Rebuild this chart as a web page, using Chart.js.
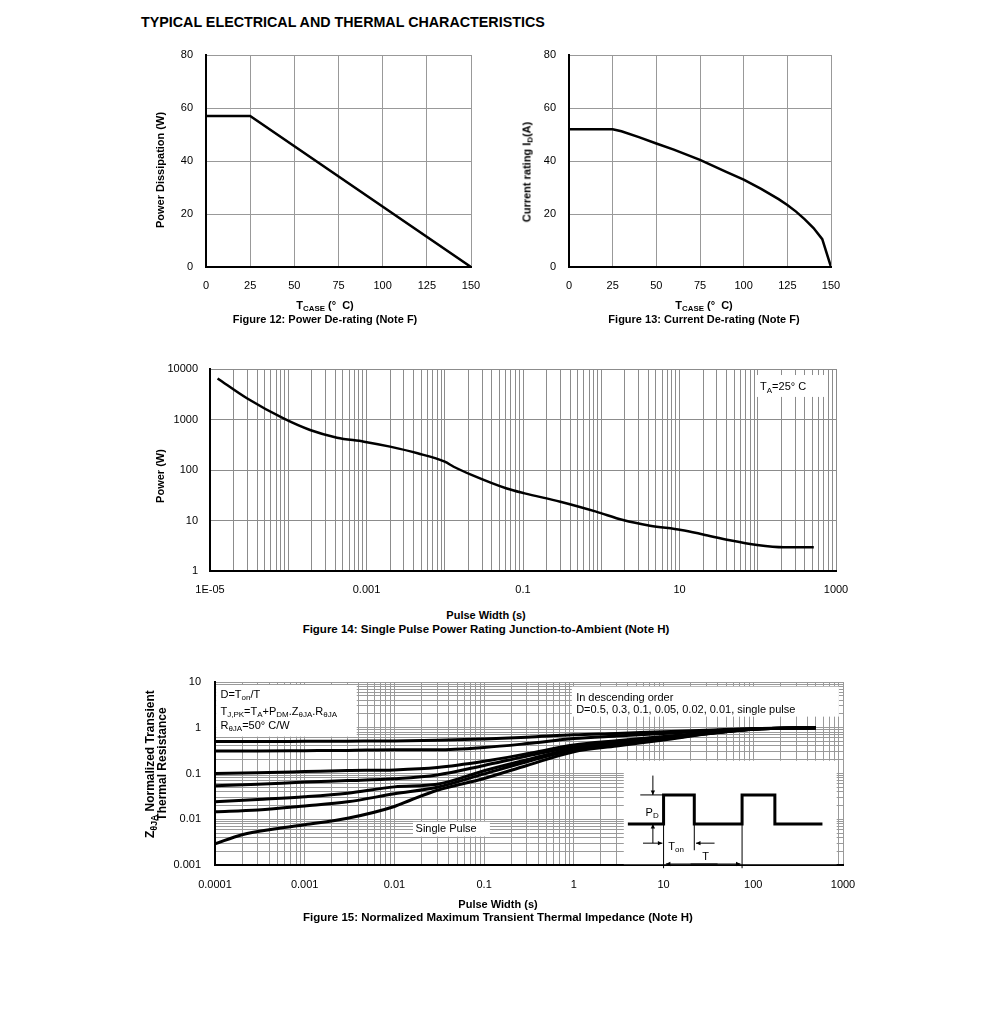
<!DOCTYPE html>
<html>
<head>
<meta charset="utf-8">
<script src="https://cdn.jsdelivr.net/npm/chart.js@4.4.1/dist/chart.umd.min.js"></script>
<style>
  html, body { margin: 0; padding: 0; background: #fff; }
  body { width: 991px; height: 1034px; position: relative; overflow: hidden;
         font-family: "Liberation Sans", Arial, sans-serif; color: #000; }
  canvas { position: absolute; }
  h1 { position: absolute; left: 141px; top: 14px; margin: 0; font-size: 14.3px; line-height: 16px; font-weight: bold; }
  .t { position: absolute; white-space: nowrap; font-weight: bold; font-size: 11px; line-height: 13px;
       transform: translate(-50%, -50%); text-align: center; }
  .v { transform: translate(-50%, -50%) rotate(-90deg); }
  .w { font-size: 11.5px; }
  sub { font-size: 0.72em; vertical-align: -0.3em; line-height: 0; }
</style>
</head>
<body>
<h1>TYPICAL ELECTRICAL AND THERMAL CHARACTERISTICS</h1>

<canvas id="fig12" width="330" height="255" style="left:160px;top:45px"></canvas>
<canvas id="fig13" width="320" height="255" style="left:530px;top:45px"></canvas>
<canvas id="fig14" width="690" height="245" style="left:165px;top:359px"></canvas>
<canvas id="fig15" width="690" height="230" style="left:170px;top:672px"></canvas>

<div class="t v" style="left:160px;top:170px">Power Dissipation (W)</div>
<div class="t" style="left:325px;top:305px">T<sub>CASE</sub> (°&nbsp; C)</div>
<div class="t" style="left:325px;top:319px">Figure 12: Power De-rating (Note F)</div>

<div class="t v" style="left:527px;top:172px">Current rating I<sub>D</sub>(A)</div>
<div class="t" style="left:704px;top:305px">T<sub>CASE</sub> (°&nbsp; C)</div>
<div class="t" style="left:704px;top:319px">Figure 13: Current De-rating (Note F)</div>

<div class="t v" style="left:160px;top:476px">Power (W)</div>
<div class="t" style="left:486px;top:615px">Pulse Width (s)</div>
<div class="t w" style="left:486px;top:629px">Figure 14: Single Pulse Power Rating Junction-to-Ambient (Note H)</div>

<div class="t v" style="left:156px;top:764px;font-size:12px;line-height:12px">Z<sub>θJA</sub> Normalized Transient<br>Thermal Resistance</div>
<div class="t" style="left:498px;top:904px">Pulse Width (s)</div>
<div class="t w" style="left:498px;top:917px">Figure 15: Normalized Maximum Transient Thermal Impedance (Note H)</div>

<script>
const FONT = '"Liberation Sans", Arial, sans-serif';
Chart.defaults.font.family = FONT;
Chart.defaults.font.size = 11;
Chart.defaults.color = '#000';

// Figure 12: power de-rating
const tcase12 = [0, 25, 150];
const power12 = [57, 57, 0];

// Figure 13: current de-rating
const tcase13 = [0, 25, 30, 40, 50, 60, 75, 90, 100, 110, 120, 125, 130, 135, 140, 145, 150];
const current13 = [52, 52, 51.2, 49, 46.6, 44.3, 40.4, 35.9, 33, 29.5, 25.6, 23.4, 20.9, 18, 14.7, 10.5, 0];

const tempTicks = [0, 25, 50, 75, 100, 125, 150];
const tempLabels = ['0', '25', '50', '75', '100', '125', '150'];
const derateTicks = [0, 20, 40, 60, 80];
const derateLabels = ['0', '20', '40', '60', '80'];

// Figure 14: single pulse power rating
const pulse14 = [1.25e-5, 3e-5, 8.7e-5, 1.9e-4, 4.2e-4, 9.3e-4, 2e-3, 4.5e-3, 0.01, 0.013, 0.022,
                 0.062, 0.105, 0.3, 0.86, 1.9, 4.2, 10.5, 20, 44, 98, 215, 520];
const power14 = [6500, 2600, 1050, 620, 437, 364, 290, 214, 146, 116, 80,
                 43, 34.5, 23.6, 15, 10.2, 7.9, 6.5, 5.3, 4.05, 3.27, 2.95, 2.95];

const x14Ticks = [1e-5, 1e-3, 0.1, 10, 1000];
const x14Labels = ['1E-05', '0.001', '0.1', '10', '1000'];
const y14Ticks = [1, 10, 100, 1000, 10000];
const y14Labels = ['1', '10', '100', '1000', '10000'];

// Figure 15: normalized transient thermal impedance
const pulse15 = [1e-4, 3e-4, 1e-3, 3e-3, 0.01, 0.03, 0.1, 0.3, 1, 3, 10, 30, 100, 500];
const zD05  = [0.50, 0.50, 0.505, 0.51, 0.515, 0.53, 0.57, 0.62, 0.70, 0.75, 0.82, 0.88, 0.96, 1.0];
const zD03  = [0.31, 0.31, 0.315, 0.32, 0.33, 0.33, 0.37, 0.45, 0.58, 0.66, 0.75, 0.84, 0.95, 1.0];
const zD01  = [0.10, 0.104, 0.11, 0.116, 0.12, 0.135, 0.185, 0.27, 0.42, 0.52, 0.64, 0.78, 0.94, 1.0];
const zD005 = [0.054, 0.058, 0.065, 0.07, 0.077, 0.093, 0.15, 0.24, 0.38, 0.47, 0.60, 0.76, 0.93, 1.0];
const zD002 = [0.024, 0.027, 0.031, 0.037, 0.051, 0.058, 0.115, 0.2, 0.35, 0.44, 0.57, 0.75, 0.93, 1.0];
const zD001 = [0.0146, 0.016, 0.0195, 0.024, 0.036, 0.05, 0.098, 0.18, 0.33, 0.42, 0.56, 0.74, 0.93, 1.0];
const pulseSingle = [1e-4, 2e-4, 5e-4, 1e-3, 3e-3, 0.01, 0.015, 0.03, 0.1, 0.3, 1, 3, 10, 30, 100, 500];
const zSingle = [0.0029, 0.0046, 0.0063, 0.0076, 0.0105, 0.019, 0.026, 0.043, 0.078, 0.15, 0.30, 0.40, 0.54, 0.73, 0.93, 1.0];

const x15Ticks = [1e-4, 1e-3, 0.01, 0.1, 1, 10, 100, 1000];
const x15Labels = ['0.0001', '0.001', '0.01', '0.1', '1', '10', '100', '1000'];
const y15Ticks = [0.001, 0.01, 0.1, 1, 10];
const y15Labels = ['0.001', '0.01', '0.1', '1', '10'];

// grid positions for log axes: 1..9 in every decade
function logGrid(min, max) {
  const out = [];
  for (let e = Math.round(Math.log10(min)); e < Math.round(Math.log10(max)); e++)
    for (let m = 1; m < 10; m++) out.push(m * Math.pow(10, e));
  out.push(max);
  return out;
}

function labelOf(ticks, labels) {
  return v => {
    const i = ticks.findIndex(t => Math.abs(v - t) <= 1e-9 * Math.max(1, Math.abs(t)));
    return i < 0 ? '' : labels[i];
  };
}

function axis(type, min, max, grid, ticks, labels, size, pad, gridColor) {
  return {
    type, min, max,
    afterBuildTicks: s => { s.ticks = grid.map(v => ({ value: v })); },
    afterFit: s => {
      if (s.isHorizontal()) s.height = size; else s.width = size;
      s.paddingLeft = s.paddingRight = s.paddingTop = s.paddingBottom = 0;
    },
    ticks: { autoSkip: false, maxRotation: 0, minRotation: 0, padding: pad, callback: labelOf(ticks, labels) },
    grid: { color: gridColor, drawTicks: false, lineWidth: 1 },
    border: { color: '#000', width: 2 }
  };
}

function series(xs, ys, w, smooth) {
  const ds = {
    data: xs.map((x, i) => ({ x, y: ys[i] })),
    borderColor: '#000', borderWidth: w, pointRadius: 0, fill: false, tension: 0
  };
  if (smooth) ds.cubicInterpolationMode = 'monotone';
  return ds;
}

function baseOptions(pad, scales) {
  return {
    responsive: false, animation: false,
    layout: { padding: pad },
    plugins: { legend: { display: false }, tooltip: { enabled: false } },
    scales
  };
}

// drawing helpers for the annotations, placed in data coordinates
const pos = (c, xv, yv) => [c.scales.x.getPixelForValue(xv), c.scales.y.getPixelForValue(yv)];

function whiteBox(c, x1, y1, x2, y2) {
  const [a, b] = pos(c, x1, y1), [d, e] = pos(c, x2, y2);
  c.ctx.fillStyle = '#fff';
  c.ctx.fillRect(Math.min(a, d), Math.min(b, e), Math.abs(d - a), Math.abs(e - b));
}

function rich(c, xv, yv, parts, size) {
  const ctx = c.ctx;
  let [cx, cy] = pos(c, xv, yv);
  ctx.textBaseline = 'middle'; ctx.textAlign = 'left'; ctx.fillStyle = '#000';
  for (const [s, sub] of parts) {
    ctx.font = (sub ? Math.round(size * 0.72) : size) + 'px ' + FONT;
    ctx.fillText(s, cx, sub ? cy + size * 0.3 : cy);
    cx += ctx.measureText(s).width;
  }
}

function path(c, pts, w) {
  const ctx = c.ctx;
  ctx.beginPath();
  pts.forEach(([xv, yv], i) => { const [a, b] = pos(c, xv, yv); i ? ctx.lineTo(a, b) : ctx.moveTo(a, b); });
  ctx.lineWidth = w; ctx.strokeStyle = '#000'; ctx.lineJoin = 'miter'; ctx.stroke();
}

function arrow(c, from, to) {
  const ctx = c.ctx;
  const [x1, y1] = pos(c, from[0], from[1]), [x2, y2] = pos(c, to[0], to[1]);
  ctx.beginPath(); ctx.moveTo(x1, y1); ctx.lineTo(x2, y2);
  ctx.lineWidth = 1; ctx.strokeStyle = '#000'; ctx.stroke();
  const a = Math.atan2(y2 - y1, x2 - x1), h = 5;
  ctx.beginPath(); ctx.moveTo(x2, y2);
  ctx.lineTo(x2 - h * Math.cos(a - 0.45), y2 - h * Math.sin(a - 0.45));
  ctx.lineTo(x2 - h * Math.cos(a + 0.45), y2 - h * Math.sin(a + 0.45));
  ctx.closePath(); ctx.fillStyle = '#000'; ctx.fill();
}

// Figure 12
new Chart(document.getElementById('fig12'), {
  type: 'line',
  data: { datasets: [series(tcase12, power12, 2.5, false)] },
  options: baseOptions({ top: 10, right: 19, left: 0, bottom: 0 }, {
    x: axis('linear', 0, 150, tempTicks, tempTicks, tempLabels, 33, 12, '#999'),
    y: axis('linear', 0, 80, derateTicks, derateTicks, derateLabels, 46, 13, '#999')
  })
});

// Figure 13
new Chart(document.getElementById('fig13'), {
  type: 'line',
  data: { datasets: [series(tcase13, current13, 2.5, false)] },
  options: baseOptions({ top: 10, right: 19, left: 0, bottom: 0 }, {
    x: axis('linear', 0, 150, tempTicks, tempTicks, tempLabels, 33, 12, '#999'),
    y: axis('linear', 0, 80, derateTicks, derateTicks, derateLabels, 39, 13, '#999')
  })
});

// Figure 14
const fig14Note = {
  id: 'fig14Note',
  beforeDatasetsDraw(c) {
    c.ctx.save();
    whiteBox(c, 95, 7600, 725, 2800);
    rich(c, 107, 4400, [['T', 0], ['A', 1], ['=25° C', 0]], 11);
    c.ctx.restore();
  }
};
new Chart(document.getElementById('fig14'), {
  type: 'line',
  data: { datasets: [series(pulse14, power14, 2.5, true)] },
  options: baseOptions({ top: 10, right: 19, left: 0, bottom: 0 }, {
    x: axis('logarithmic', 1e-5, 1000, logGrid(1e-5, 1000), x14Ticks, x14Labels, 33, 12, '#8c8c8c'),
    y: axis('logarithmic', 1, 10000, y14Ticks, y14Ticks, y14Labels, 45, 12, '#8c8c8c')
  }),
  plugins: [fig14Note]
});

// Figure 15
const low = 0.0079, high = 0.034;
const fig15Notes = {
  id: 'fig15Notes',
  beforeDatasetsDraw(c) {
    const ctx = c.ctx;
    ctx.save();
    whiteBox(c, 1.03e-4, 8.6, 0.0038, 0.64);
    rich(c, 1.15e-4, 5.2, [['D=T', 0], ['on', 1], ['/T', 0]], 11);
    rich(c, 1.15e-4, 2.24, [['T', 0], ['J,PK', 1], ['=T', 0], ['A', 1], ['+P', 0], ['DM', 1],
                            ['.Z', 0], ['θJA', 1], ['.R', 0], ['θJA', 1]], 11);
    rich(c, 1.15e-4, 1.11, [['R', 0], ['θJA', 1], ['=50° C/W', 0]], 11);

    whiteBox(c, 0.95, 7.9, 900, 1.75);
    rich(c, 1.06, 4.4, [['In descending order', 0]], 11);
    rich(c, 1.06, 2.44, [['D=0.5, 0.3, 0.1, 0.05, 0.02, 0.01, single pulse', 0]], 11);

    whiteBox(c, 0.0161, 0.0088, 0.116, 0.0042);
    rich(c, 0.0172, 0.0062, [['Single Pulse', 0]], 11);

    whiteBox(c, 3.6, 0.19, 850, 0.00104);
    ctx.restore();
  },
  afterDatasetsDraw(c) {
    const ctx = c.ctx;
    ctx.save();
    path(c, [[4, low], [10, low], [10, high], [22, high], [22, low], [75, low],
             [75, high], [174, high], [174, low], [590, low]], 3);
    path(c, [[5.5, high], [10, high]], 1);
    path(c, [[10, high], [10, 0.00085]], 1);
    path(c, [[22, low], [22, 0.0021]], 1);
    path(c, [[75, high], [75, 0.00085]], 1);
    arrow(c, [7.6, 0.09], [7.6, high]);
    arrow(c, [7.6, 0.003], [7.6, low]);
    rich(c, 6.3, 0.0138, [['P', 0], ['D', 1]], 11);
    arrow(c, [5.9, 0.003], [9.7, 0.003]);
    arrow(c, [37, 0.003], [23, 0.003]);
    rich(c, 11.3, 0.0025, [['T', 0], ['on', 1]], 11);
    rich(c, 27, 0.0015, [['T', 0]], 11);
    arrow(c, [40, 0.00105], [10.6, 0.00105]);
    arrow(c, [20, 0.00105], [72, 0.00105]);
    ctx.restore();
  }
};
new Chart(document.getElementById('fig15'), {
  type: 'line',
  data: { datasets: [
    series(pulse15, zD05, 3, true), series(pulse15, zD03, 3, true), series(pulse15, zD01, 3, true),
    series(pulse15, zD005, 3, true), series(pulse15, zD002, 3, true), series(pulse15, zD001, 3, true),
    series(pulseSingle, zSingle, 3, true)
  ] },
  options: baseOptions({ top: 10, right: 17, left: 0, bottom: 0 }, {
    x: axis('logarithmic', 1e-4, 1000, logGrid(1e-4, 1000), x15Ticks, x15Labels, 37, 13, '#9a9a9a'),
    y: axis('logarithmic', 0.001, 10, logGrid(0.001, 10), y15Ticks, y15Labels, 45, 14, '#9a9a9a')
  }),
  plugins: [fig15Notes]
});
</script>
</body>
</html>
